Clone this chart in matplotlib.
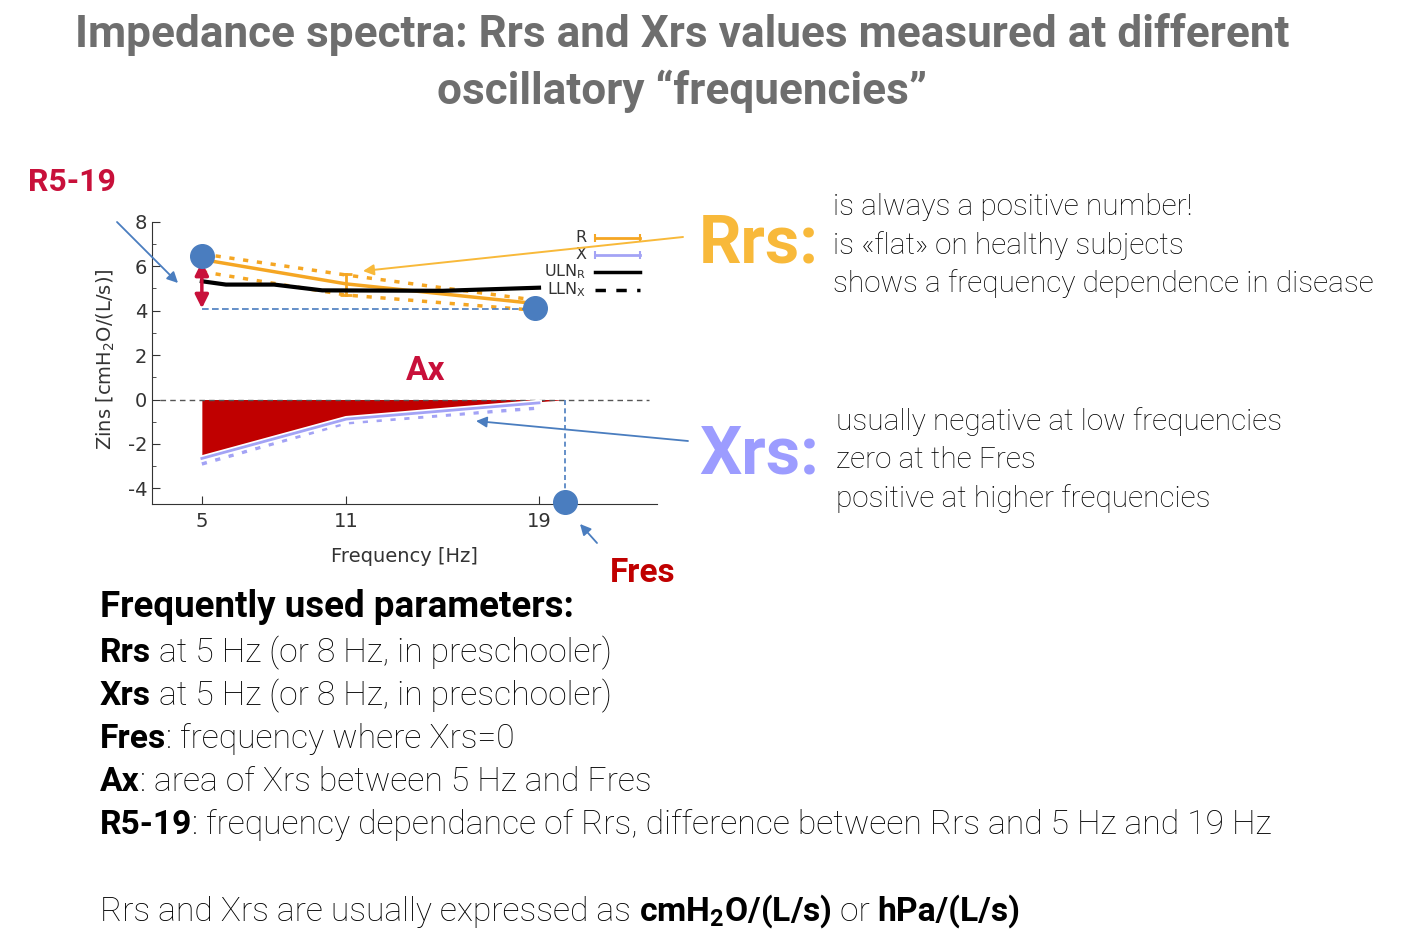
import matplotlib
matplotlib.use("Agg")
import matplotlib.pyplot as plt

# ==============================
# Data
# ==============================
freq = [5, 11, 19]
r_mean = [6.3, 5.2, 4.3]
r_upper = [6.55, 5.6, 4.45]
r_lower = [5.75, 4.7, 4.0]
r_err11 = [4.7, 5.65]

x_mean = [-2.65, -0.88, -0.15]
x_lower = [-2.9, -1.05, -0.38]

uln_freq = [5, 6, 8, 10, 15, 19]
uln_r = [5.32, 5.17, 5.17, 4.91, 4.89, 5.03]

fres = 20.1
fill_freq = [5, 11, 19, 20.1]
fill_x = [-2.6, -0.85, -0.1, 0.0]

r5 = 6.45
r19 = 4.1

yticks = [-4, -2, 0, 2, 4, 6, 8]
xticks = [5, 11, 19]

# ==============================
# Style
# ==============================
W, H = 1404, 938
ORANGE = "#f5a623"
ORANGE_BIG = "#f8b93a"
PURPLE = "#a3a3f5"
PURPLE_BIG = "#9c9cff"
BLUE = "#4a7dbf"
CRIMSON = "#c8103a"
DARKRED = "#c00000"
HEAD = ["Roboto", "DejaVu Sans"]
BODY = ["Roboto", "DejaVu Sans"]

plt.rcParams["mathtext.fontset"] = "custom"
plt.rcParams["mathtext.rm"] = "DejaVu Sans"
plt.rcParams["mathtext.bf"] = "Roboto:bold"
plt.rcParams["axes.unicode_minus"] = False

fig = plt.figure(figsize=(W / 100, H / 100), dpi=100)
fig.patch.set_facecolor("white")


def fx(px):
    return px / W


def fy(py):
    return 1 - py / H


# ==============================
# Plot
# ==============================
ax = fig.add_axes([fx(152), fy(504), fx(657) - fx(152), fy(215) - fy(504)])
ax.set_xlim(2.93, 23.9)
ax.set_ylim(-4.7, 8.3)
for s in ["top", "right"]:
    ax.spines[s].set_visible(False)
ax.spines["left"].set_bounds(-4.7, 8)
ax.spines["left"].set_color("#333333")
ax.spines["bottom"].set_color("#333333")
ax.set_yticks(yticks)
ax.set_yticks([-3, -1, 1, 3, 5, 7], minor=True)
ax.set_xticks(xticks)
ax.tick_params(direction="in", length=6, labelsize=14, colors="#333333")
ax.tick_params(axis="x", pad=6)
ax.tick_params(which="minor", direction="in", length=3, color="#333333")
ax.set_xlabel("Frequency [Hz]", fontsize=14, color="#333333", labelpad=11)
ax.set_ylabel("Zins [cmH$_2$O/(L/s)]", fontsize=14, color="#333333", labelpad=8)

# zero line and Fres guide
ax.axhline(0, xmin=0.016, xmax=0.985, color="#555555", ls=(0, (4, 3)), lw=1)
ax.plot([fres, fres], [0, -4.6], color=BLUE, ls=(0, (3, 2)), lw=1.2)

# Ax area
ax.fill_between(fill_freq, fill_x, 0, color=DARKRED, lw=0)

# X curves
ax.plot(freq, x_lower, color=PURPLE, ls=(0, (1.5, 2.5)), lw=2.5)
ax.plot(freq, x_mean, color="white", lw=4.5)
ax.plot(freq, x_mean, color=PURPLE, lw=2)

# R curves
ax.plot(freq, r_upper, color=ORANGE, ls=(0, (1.5, 2.5)), lw=2.5)
ax.plot(freq, r_lower, color=ORANGE, ls=(0, (1.5, 2.5)), lw=2.5)
ax.plot(freq, r_mean, color=ORANGE, lw=2.5)
ax.plot([11, 11], r_err11, color=ORANGE, lw=2)
ax.plot([11, 11], r_err11, color=ORANGE, ls="none", marker="_", ms=8, mew=2)

# ULN of R
ax.plot(uln_freq, uln_r, color="black", lw=3)

# R5-19 markers
ax.plot([5, 19], [4.05, 4.05], color=BLUE, ls=(0, (4, 2)), lw=1.2)
ax.annotate("", xy=(5, 4.1), xytext=(5, 6.2),
            arrowprops=dict(arrowstyle="<|-|>", color=CRIMSON, lw=2.5,
                            mutation_scale=20, shrinkA=0, shrinkB=0))
ax.plot([5, 18.85], [r5, r19], ls="none", marker="o", ms=17, color=BLUE, zorder=5)
ax.plot([fres], [-4.62], ls="none", marker="o", ms=17, color=BLUE, zorder=5,
        clip_on=False)

# legend keys (gnuplot style)
leg = [("R", ORANGE, "-", True), ("X", PURPLE, "-", True),
       ("ULN$_\\mathrm{R}$", "black", "-", False),
       ("LLN$_\\mathrm{X}$", "black", (0, (3, 3)), False)]
for i, (lab, col, ls, caps) in enumerate(leg):
    yy = [0.922, 0.863, 0.804, 0.742][i]
    ax.plot([0.877, 0.966], [yy, yy], transform=ax.transAxes, color=col,
            ls=ls, lw=2.5 if not caps else 2, clip_on=False)
    if caps:
        ax.plot([0.877, 0.966], [yy, yy], transform=ax.transAxes, color=col,
                ls="none", marker="|", ms=6, mew=1.5, clip_on=False)
    ax.text(0.86, yy, lab, transform=ax.transAxes, ha="right", va="center",
            fontsize=11.5, color="#333333")

# ==============================
# Arrows
# ==============================
def arrow(p0, p1, col, lw=1.3):
    fig.add_artist(matplotlib.patches.FancyArrowPatch(
        (fx(p0[0]), fy(p0[1])), (fx(p1[0]), fy(p1[1])),
        transform=fig.transFigure, arrowstyle="-|>", color=col, lw=lw,
        mutation_scale=16, shrinkA=0, shrinkB=0))


arrow((117, 222), (178, 283), BLUE)
arrow((683, 237), (363, 271), ORANGE_BIG, 1.4)
arrow((688, 441), (476, 421), BLUE)
arrow((597, 543), (580, 524), BLUE)

# ==============================
# Texts
# ==============================
fig.text(fx(682), fy(47), "Impedance spectra: Rrs and Xrs values measured at different",
         ha="center", va="baseline", fontsize=31.8, fontweight="bold",
         color="#6e6e6e", family=HEAD)
fig.text(fx(682), fy(104), "oscillatory \u201cfrequencies\u201d",
         ha="center", va="baseline", fontsize=31.8, fontweight="bold",
         color="#6e6e6e", family=HEAD)

fig.text(fx(28), fy(191), "R5-19", fontsize=23, fontweight="bold",
         color=CRIMSON, family=HEAD, va="baseline")
fig.text(fx(406), fy(380), "Ax", fontsize=24, fontweight="bold",
         color=CRIMSON, family=HEAD, va="baseline")
fig.text(fx(610), fy(582), "Fres", fontsize=24, fontweight="bold",
         color=DARKRED, family=HEAD, va="baseline")

fig.text(fx(699), fy(262), "Rrs:", fontsize=48, fontweight="bold",
         color=ORANGE_BIG, family=HEAD, va="baseline")
fig.text(fx(699), fy(474), "Xrs:", fontsize=48, fontweight="bold",
         color=PURPLE_BIG, family=HEAD, va="baseline")

rrs_lines = ["is always a positive number!",
             "is \u00abflat\u00bb on healthy subjects",
             "shows a frequency dependence in disease"]
for i, s in enumerate(rrs_lines):
    fig.text(fx(833), fy(215 + 38.5 * i), s, fontsize=21.4, fontweight="light",
             family=BODY, color="black", va="baseline")

xrs_lines = ["usually negative at low frequencies",
             "zero at the Fres",
             "positive at higher frequencies"]
for i, s in enumerate(xrs_lines):
    fig.text(fx(836), fy(430 + 38.5 * i), s, fontsize=21.4, fontweight="light",
             family=BODY, color="black", va="baseline")

renderer = fig.canvas.get_renderer()


def rich(x_px, y_px, parts, size):
    x = fx(x_px)
    for s, w in parts:
        t = fig.text(x, fy(y_px), s, fontsize=size, fontweight=w, family=BODY,
                     color="black", va="baseline")
        x += t.get_window_extent(renderer).width / W


fig.text(fx(100), fy(617), "Frequently used parameters:", fontsize=26.5,
         fontweight="bold", family=BODY, color="black", va="baseline")

params = [
    [("Rrs", "bold"), (" at 5 Hz (or 8 Hz, in preschooler)", "light")],
    [("Xrs", "bold"), (" at 5 Hz (or 8 Hz, in preschooler)", "light")],
    [("Fres", "bold"), (": frequency where Xrs=0", "light")],
    [("Ax", "bold"), (": area of Xrs between 5 Hz and Fres", "light")],
    [("R5-19", "bold"), (": frequency dependance of Rrs, difference between Rrs and 5 Hz and 19 Hz", "light")],
]
for i, parts in enumerate(params):
    rich(100, 662 + 43 * i, parts, 24.2)

rich(100, 921, [("Rrs and Xrs are usually expressed as ", "light"),
                ("cmH$_\\mathbf{2}$O/(L/s)", "bold"),
                (" or ", "light"),
                ("hPa/(L/s)", "bold")], 24.2)

fig.savefig("out.png", dpi=100, facecolor="white")
